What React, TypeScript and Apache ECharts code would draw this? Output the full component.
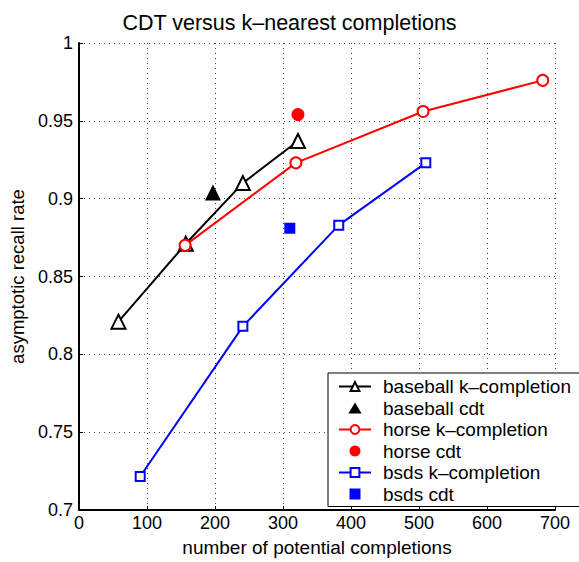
import React, { useEffect, useRef } from "react";
import * as echarts from "echarts";

const baseballK: [number, number][] = [[58, 0.821], [157, 0.871], [241, 0.910], [322, 0.937]];
const baseballCdt: [number, number][] = [[197, 0.904]];
const horseK: [number, number][] = [[156, 0.870], [319, 0.923], [506, 0.956], [682, 0.976]];
const horseCdt: [number, number][] = [[322, 0.954]];
const bsdsK: [number, number][] = [[90, 0.7215], [241, 0.818], [382, 0.883], [510, 0.923]];
const bsdsCdt: [number, number][] = [[310, 0.881]];

const seriesNames = [
  "baseball k\u2013completion",
  "baseball cdt",
  "horse k\u2013completion",
  "horse cdt",
  "bsds k\u2013completion",
  "bsds cdt",
];

const FONT = "Liberation Sans";

export default function App() {
  const ref = useRef<HTMLDivElement>(null);
  useEffect(() => {
    if (!ref.current) return;
    const chart = echarts.init(ref.current, undefined, { renderer: "svg" });
    const lineSeries = (name: string, data: [number, number][], color: string, symbol: string, size: number) => ({
      name,
      type: "line",
      data,
      symbol,
      symbolSize: size,
      showAllSymbol: true,
      lineStyle: { color, width: 2 },
      itemStyle: { color, borderWidth: 2, opacity: 1 },
      z: 3,
    });
    const scatterSeries = (name: string, data: [number, number][], color: string, symbol: string, size: number) => ({
      name,
      type: "scatter",
      data,
      symbol,
      symbolSize: size,
      itemStyle: { color, borderWidth: 0, opacity: 1 },
      z: 3,
    });
    const split = { show: true, lineStyle: { color: "#444", width: 1, type: [1, 4] } };
    chart.setOption({
      animation: false,
      textStyle: { fontFamily: FONT },
      title: {
        text: "CDT versus k\u2013nearest completions",
        left: "center",
        top: 7,
        textStyle: { fontFamily: FONT, fontSize: 21.5, fontWeight: "normal", color: "#000" },
      },
      grid: { left: 79, right: 24, top: 43, bottom: 45 },
      xAxis: {
        type: "value",
        min: 0,
        max: 700,
        interval: 100,
        name: "number of potential completions",
        nameLocation: "middle",
        nameGap: 28,
        nameTextStyle: { fontFamily: FONT, fontSize: 19, color: "#000" },
        axisLine: { show: true, onZero: false, lineStyle: { color: "#000", width: 2 } },
        axisTick: { show: true, inside: true, length: 4, lineStyle: { color: "#000", width: 1 } },
        axisLabel: { fontFamily: FONT, fontSize: 18, color: "#000", margin: 4 },
        splitLine: split,
      },
      yAxis: {
        type: "value",
        min: 0.7,
        max: 1,
        interval: 0.05,
        name: "asymptotic recall rate",
        nameLocation: "middle",
        nameGap: 38,
        nameTextStyle: { fontFamily: FONT, fontSize: 18.5, color: "#000" },
        axisLine: { show: true, onZero: false, lineStyle: { color: "#000", width: 2 } },
        axisTick: { show: true, inside: true, length: 4, lineStyle: { color: "#000", width: 1 } },
        axisLabel: {
          fontFamily: FONT,
          fontSize: 18,
          color: "#000",
          margin: 6,
          formatter: (v: number) => String(parseFloat(v.toFixed(2))),
        },
        splitLine: split,
      },
      legend: {
        orient: "vertical",
        left: 328,
        top: 373,
        backgroundColor: "#fff",
        borderColor: "#000",
        borderWidth: 1,
        padding: [4, 10, 3, 10],
        itemWidth: 32,
        itemHeight: 11,
        itemGap: 2.5,
        textStyle: { fontFamily: FONT, fontSize: 19, color: "#000", padding: [0, 0, 0, 7] },
        data: [
          { name: seriesNames[0] },
          { name: seriesNames[1], icon: "path://M6,0L12,10L0,10Z" },
          { name: seriesNames[2] },
          { name: seriesNames[3], icon: "circle" },
          { name: seriesNames[4] },
          { name: seriesNames[5], icon: "path://M0,0L8,0L8,8L0,8Z" },
        ],
      },
      series: [
        lineSeries(seriesNames[0], baseballK, "#000", "emptyTriangle", 14),
        scatterSeries(seriesNames[1], baseballCdt, "#000", "triangle", 16),
        lineSeries(seriesNames[2], horseK, "#ff0000", "emptyCircle", 11),
        scatterSeries(seriesNames[3], horseCdt, "#ff0000", "circle", 13),
        lineSeries(seriesNames[4], bsdsK, "#0000ff", "emptyRect", 9),
        scatterSeries(seriesNames[5], bsdsCdt, "#0000ff", "rect", 11),
      ],
    });
    return () => chart.dispose();
  }, []);
  return (
    <div
      ref={ref}
      style={{ position: "absolute", left: 0, top: 0, width: 579, height: 562, background: "#fff" }}
    />
  );
}
